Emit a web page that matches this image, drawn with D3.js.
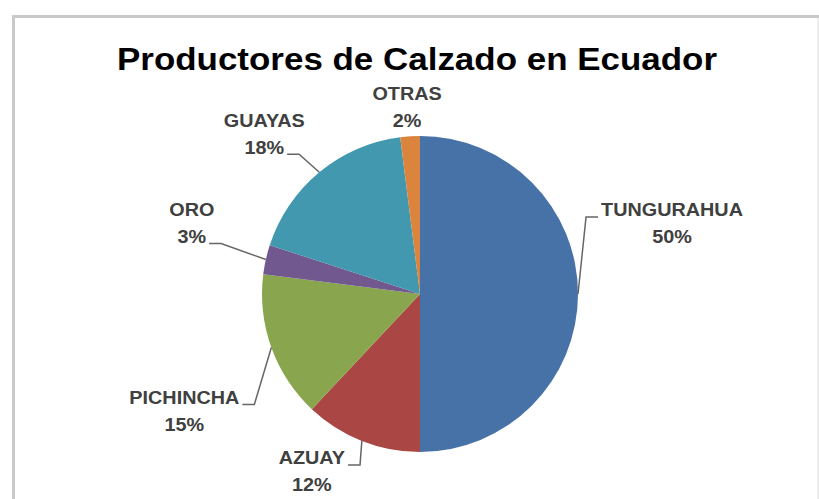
<!DOCTYPE html>
<html lang="es">
<head>
<meta charset="UTF-8">
<title>Productores de Calzado en Ecuador</title>
<style>
  body { margin: 0; background: #fff; }
  svg { display: block; }
</style>
</head>
<body>
<svg width="819" height="499"></svg>
<script src="https://d3js.org/d3.v7.min.js"></script>
<script>
// data
const categories = ["TUNGURAHUA", "AZUAY", "PICHINCHA", "ORO", "GUAYAS", "OTRAS"];
const values = [50, 12, 15, 3, 18, 2];
const colors = ["#4672a8", "#aa4643", "#89a54e", "#71588f", "#4298af", "#db843d"];

// label placement relative to the slice's point on the rim (Excel "best fit")
const labelOffsets = [[94, -84], [-50, 17], [-87, 50], [-74, -50], [-55, -52], [-3, -43]];
// which line the leader hooks onto, and on which side (null = no leader)
const hooks = [[0, "left"], [0, "right"], [0, "right"], [1, "right"], [1, "right"], null];

const svg = d3.select("svg");
const cx = 420, cy = 294, r = 158;
const labelFont = "'Liberation Sans', Arial, sans-serif";
const stretch = 1.1;   // the screenshot is a bit wide
const lineGap = 27;

// frame
svg.append("path")
    .attr("d", "M13.5,520V16.5H819")
    .attr("fill", "none")
    .attr("stroke", "#c9c9c9")
    .attr("stroke-width", 3);
svg.append("line")
    .attr("x1", 818).attr("x2", 818).attr("y1", 18).attr("y2", 499)
    .attr("stroke", "#e8e8e8")
    .attr("stroke-width", 1.5);

// title
svg.append("text")
    .attr("x", 417).attr("y", 70)
    .attr("text-anchor", "middle")
    .attr("font-family", labelFont)
    .attr("font-weight", "bold")
    .attr("font-size", 31)
    .attr("fill", "#000")
    .attr("textLength", 600)
    .attr("lengthAdjust", "spacingAndGlyphs")
    .text("Productores de Calzado en Ecuador");

const pie = d3.pie().sort(null).value(d => d.value);
const arcs = pie(categories.map((c, i) => ({ name: c, value: values[i], i })));
const arc = d3.arc().innerRadius(0).outerRadius(r);

const g = svg.append("g").attr("transform", `translate(${cx},${cy})`);

g.selectAll("path")
    .data(arcs)
    .join("path")
    .attr("d", arc)
    .attr("fill", d => colors[d.data.i]);

const rim = d => {
    const a = (d.startAngle + d.endAngle) / 2;
    return [r * Math.sin(a), -r * Math.cos(a)];
};

// labels
g.selectAll("g.lbl")
    .data(arcs)
    .join("g")
    .attr("class", "lbl")
    .each(function (d) {
        const p = rim(d);
        const off = labelOffsets[d.data.i];
        const lx = p[0] + off[0], ly = p[1] + off[1];
        const sel = d3.select(this);
        const lines = [d.data.name, d3.format(".0%")(d.value / d3.sum(values))];
        const widths = [];
        lines.forEach((t, k) => {
            const txt = sel.append("text")
                .attr("x", lx)
                .attr("y", ly + k * lineGap)
                .attr("dy", "0.36em")
                .attr("text-anchor", "middle")
                .attr("font-family", labelFont)
                .attr("font-weight", "bold")
                .attr("font-size", 18)
                .attr("fill", "#404040")
                .text(t);
            const w = txt.node().getComputedTextLength() * stretch;
            txt.attr("textLength", w).attr("lengthAdjust", "spacingAndGlyphs");
            widths.push(w);
        });

        const h = hooks[d.data.i];
        if (!h) return;
        const [line, side] = h;
        const sgn = side === "right" ? 1 : -1;
        const tx = lx + sgn * (widths[line] / 2 + 3);
        const ty = ly + line * lineGap + 7;
        const kx = tx + sgn * 12;
        sel.append("path")
            .attr("d", d3.line()([[tx, ty], [kx, ty], p]))
            .attr("fill", "none")
            .attr("stroke", "#666")
            .attr("stroke-width", 1.5);
    });
</script>
</body>
</html>
